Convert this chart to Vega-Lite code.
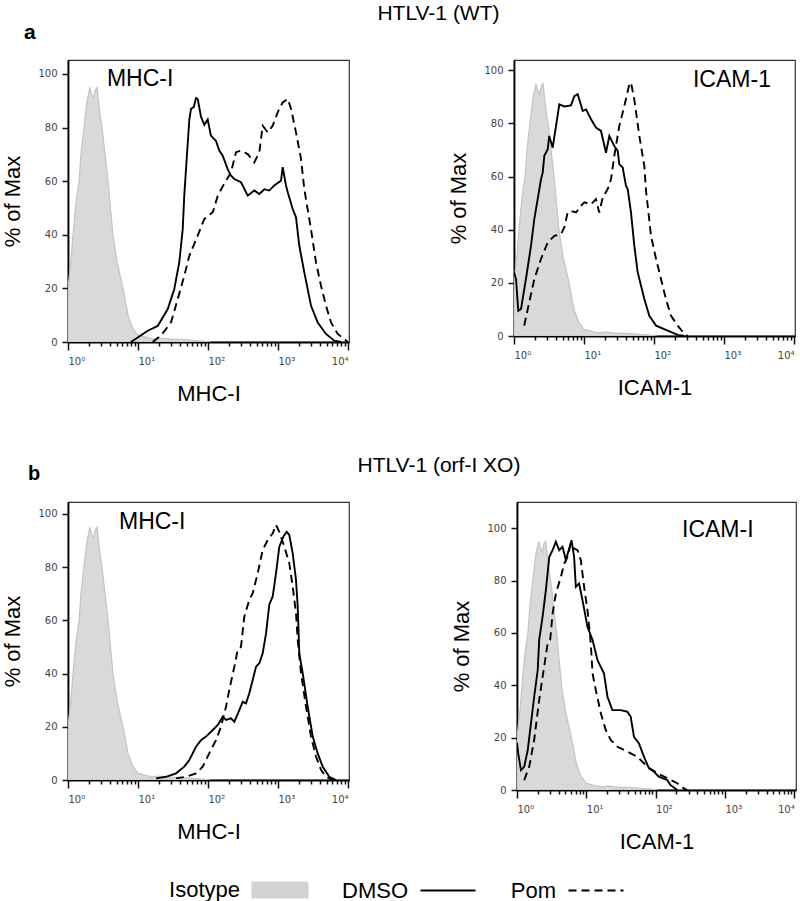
{
  "$schema": "https://vega.github.io/schema/vega-lite/v6.json",
  "padding": {"left": 1, "top": 3, "right": 5, "bottom": 5},
  "spacing": 50,
  "datasets": {
    "iso": [
      {"x": 1.0, "y": 20}, {"x": 1.1, "y": 30}, {"x": 1.18, "y": 40}, {"x": 1.3, "y": 52}, {"x": 1.44, "y": 60},
      {"x": 1.53, "y": 70}, {"x": 1.69, "y": 80}, {"x": 1.87, "y": 90}, {"x": 2.06, "y": 95}, {"x": 2.2, "y": 92},
      {"x": 2.31, "y": 91}, {"x": 2.45, "y": 94}, {"x": 2.6, "y": 95}, {"x": 2.86, "y": 85}, {"x": 3.06, "y": 80},
      {"x": 3.38, "y": 70}, {"x": 3.73, "y": 60}, {"x": 4.11, "y": 48}, {"x": 4.39, "y": 40}, {"x": 5.01, "y": 30},
      {"x": 6.11, "y": 20}, {"x": 7.2, "y": 10}, {"x": 8.48, "y": 5}, {"x": 10, "y": 2.5}, {"x": 13, "y": 1.8},
      {"x": 16, "y": 1.2}, {"x": 21, "y": 1.5}, {"x": 30, "y": 1}, {"x": 41, "y": 1}, {"x": 60, "y": 0.6},
      {"x": 79, "y": 0.4}, {"x": 110, "y": 0}
    ],
    "a1": [
      {"s": "DMSO", "x": 7.94, "y": 0}, {"s": "DMSO", "x": 13.8, "y": 4.2}, {"s": "DMSO", "x": 19.1, "y": 6}, {"s": "DMSO", "x": 26.6, "y": 12.3},
      {"s": "DMSO", "x": 33.0, "y": 19.8}, {"s": "DMSO", "x": 38.9, "y": 29.8}, {"s": "DMSO", "x": 43.5, "y": 42}, {"s": "DMSO", "x": 45.8, "y": 54.6},
      {"s": "DMSO", "x": 48.5, "y": 64.5}, {"s": "DMSO", "x": 54.1, "y": 83}, {"s": "DMSO", "x": 57.2, "y": 87}, {"s": "DMSO", "x": 62.5, "y": 87.6},
      {"s": "DMSO", "x": 67.4, "y": 91}, {"s": "DMSO", "x": 71.3, "y": 90.7}, {"s": "DMSO", "x": 79.4, "y": 84}, {"s": "DMSO", "x": 88.5, "y": 81},
      {"s": "DMSO", "x": 99, "y": 83}, {"s": "DMSO", "x": 110, "y": 77}, {"s": "DMSO", "x": 130, "y": 75}, {"s": "DMSO", "x": 145, "y": 71.4},
      {"s": "DMSO", "x": 162, "y": 69.5}, {"s": "DMSO", "x": 191, "y": 64.5}, {"s": "DMSO", "x": 213, "y": 62}, {"s": "DMSO", "x": 238, "y": 60.8},
      {"s": "DMSO", "x": 296, "y": 59.6}, {"s": "DMSO", "x": 369, "y": 54.6}, {"s": "DMSO", "x": 459, "y": 56.5}, {"s": "DMSO", "x": 541, "y": 55.2},
      {"s": "DMSO", "x": 637, "y": 57}, {"s": "DMSO", "x": 751, "y": 56.5}, {"s": "DMSO", "x": 885, "y": 58.4}, {"s": "DMSO", "x": 1104, "y": 60.2},
      {"s": "DMSO", "x": 1167, "y": 65.2}, {"s": "DMSO", "x": 1301, "y": 58.4}, {"s": "DMSO", "x": 1377, "y": 55.9}, {"s": "DMSO", "x": 1622, "y": 49.6},
      {"s": "DMSO", "x": 1807, "y": 46.5}, {"s": "DMSO", "x": 2015, "y": 35.9}, {"s": "DMSO", "x": 2375, "y": 26}, {"s": "DMSO", "x": 2961, "y": 13.5},
      {"s": "DMSO", "x": 3690, "y": 7.3}, {"s": "DMSO", "x": 4850, "y": 3}, {"s": "DMSO", "x": 6370, "y": 0.5}, {"s": "DMSO", "x": 7943, "y": 0},
      {"s": "Pom", "x": 16.2, "y": 0}, {"s": "Pom", "x": 21.3, "y": 2.4}, {"s": "Pom", "x": 29.6, "y": 7.3}, {"s": "Pom", "x": 36.9, "y": 16},
      {"s": "Pom", "x": 45.8, "y": 24.7}, {"s": "Pom", "x": 54.1, "y": 32.2}, {"s": "Pom", "x": 71.3, "y": 39.7}, {"s": "Pom", "x": 88.5, "y": 45.9},
      {"s": "Pom", "x": 117, "y": 48.4}, {"s": "Pom", "x": 138, "y": 54.6}, {"s": "Pom", "x": 162, "y": 58}, {"s": "Pom", "x": 213, "y": 63.3},
      {"s": "Pom", "x": 251, "y": 70.8}, {"s": "Pom", "x": 296, "y": 71.4}, {"s": "Pom", "x": 369, "y": 70.1}, {"s": "Pom", "x": 459, "y": 67},
      {"s": "Pom", "x": 541, "y": 70.8}, {"s": "Pom", "x": 604, "y": 80.7}, {"s": "Pom", "x": 713, "y": 78.2}, {"s": "Pom", "x": 840, "y": 80.7},
      {"s": "Pom", "x": 991, "y": 85.7}, {"s": "Pom", "x": 1167, "y": 89.4}, {"s": "Pom", "x": 1377, "y": 90.7}, {"s": "Pom", "x": 1535, "y": 87},
      {"s": "Pom", "x": 1807, "y": 78.2}, {"s": "Pom", "x": 2132, "y": 68.3}, {"s": "Pom", "x": 2375, "y": 57}, {"s": "Pom", "x": 2961, "y": 42},
      {"s": "Pom", "x": 3490, "y": 29.7}, {"s": "Pom", "x": 4111, "y": 21}, {"s": "Pom", "x": 4850, "y": 13.5}, {"s": "Pom", "x": 5715, "y": 7.3},
      {"s": "Pom", "x": 7129, "y": 3}, {"s": "Pom", "x": 8851, "y": 1.1}, {"s": "Pom", "x": 9900, "y": 0}
    ],
    "a2": [
      {"s": "DMSO", "x": 1.0, "y": 24}, {"s": "DMSO", "x": 1.07, "y": 21.4}, {"s": "DMSO", "x": 1.15, "y": 9.5}, {"s": "DMSO", "x": 1.26, "y": 10.2},
      {"s": "DMSO", "x": 1.48, "y": 21.4}, {"s": "DMSO", "x": 1.75, "y": 34}, {"s": "DMSO", "x": 1.95, "y": 44}, {"s": "DMSO", "x": 2.18, "y": 51.5},
      {"s": "DMSO", "x": 2.43, "y": 59}, {"s": "DMSO", "x": 2.57, "y": 61.5}, {"s": "DMSO", "x": 2.71, "y": 67.8}, {"s": "DMSO", "x": 3.03, "y": 70.3},
      {"s": "DMSO", "x": 3.19, "y": 75.3}, {"s": "DMSO", "x": 3.57, "y": 70.9}, {"s": "DMSO", "x": 3.98, "y": 79}, {"s": "DMSO", "x": 4.44, "y": 87.2},
      {"s": "DMSO", "x": 5.23, "y": 86.4}, {"s": "DMSO", "x": 6.52, "y": 86.8}, {"s": "DMSO", "x": 7.27, "y": 90.3}, {"s": "DMSO", "x": 8.13, "y": 91},
      {"s": "DMSO", "x": 9.58, "y": 84.7}, {"s": "DMSO", "x": 10.7, "y": 85.3}, {"s": "DMSO", "x": 12.6, "y": 81.6}, {"s": "DMSO", "x": 14.8, "y": 78.5},
      {"s": "DMSO", "x": 17.5, "y": 77.2}, {"s": "DMSO", "x": 20.6, "y": 69}, {"s": "DMSO", "x": 23, "y": 75.3}, {"s": "DMSO", "x": 27.1, "y": 71.5},
      {"s": "DMSO", "x": 30.3, "y": 69.7}, {"s": "DMSO", "x": 31.9, "y": 64.7}, {"s": "DMSO", "x": 35.7, "y": 63.4}, {"s": "DMSO", "x": 39.8, "y": 56.5},
      {"s": "DMSO", "x": 42.1, "y": 55.3}, {"s": "DMSO", "x": 46.9, "y": 46.5}, {"s": "DMSO", "x": 52.3, "y": 34}, {"s": "DMSO", "x": 58.5, "y": 24},
      {"s": "DMSO", "x": 72.7, "y": 13.9}, {"s": "DMSO", "x": 85.7, "y": 7.6}, {"s": "DMSO", "x": 107, "y": 3.9}, {"s": "DMSO", "x": 157, "y": 2},
      {"s": "DMSO", "x": 218, "y": 0.4}, {"s": "DMSO", "x": 271, "y": 0},
      {"s": "Pom", "x": 1.40, "y": 3.9}, {"s": "Pom", "x": 1.65, "y": 12.7}, {"s": "Pom", "x": 1.95, "y": 21.4}, {"s": "Pom", "x": 2.43, "y": 29},
      {"s": "Pom", "x": 3.03, "y": 35.2}, {"s": "Pom", "x": 3.77, "y": 37.7}, {"s": "Pom", "x": 4.69, "y": 38.3}, {"s": "Pom", "x": 5.23, "y": 40.9},
      {"s": "Pom", "x": 5.85, "y": 46.5}, {"s": "Pom", "x": 6.52, "y": 47.1}, {"s": "Pom", "x": 7.69, "y": 46.5}, {"s": "Pom", "x": 9.06, "y": 49},
      {"s": "Pom", "x": 10.1, "y": 50.3}, {"s": "Pom", "x": 12.6, "y": 49.6}, {"s": "Pom", "x": 14.8, "y": 51.5}, {"s": "Pom", "x": 16.5, "y": 46.5},
      {"s": "Pom", "x": 18.5, "y": 52.1}, {"s": "Pom", "x": 21.8, "y": 55.3}, {"s": "Pom", "x": 24.3, "y": 59}, {"s": "Pom", "x": 27.1, "y": 67.8},
      {"s": "Pom", "x": 31.9, "y": 79}, {"s": "Pom", "x": 37.7, "y": 86.6}, {"s": "Pom", "x": 44.4, "y": 94.7}, {"s": "Pom", "x": 46.9, "y": 95.4},
      {"s": "Pom", "x": 52.3, "y": 89.1}, {"s": "Pom", "x": 61.7, "y": 75.3}, {"s": "Pom", "x": 72.7, "y": 64}, {"s": "Pom", "x": 76.9, "y": 54.6},
      {"s": "Pom", "x": 81.3, "y": 49}, {"s": "Pom", "x": 90.6, "y": 37.7}, {"s": "Pom", "x": 107, "y": 29}, {"s": "Pom", "x": 126, "y": 21.4},
      {"s": "Pom", "x": 148, "y": 13.9}, {"s": "Pom", "x": 175, "y": 7.6}, {"s": "Pom", "x": 218, "y": 3.9}, {"s": "Pom", "x": 271, "y": 0.8},
      {"s": "Pom", "x": 303, "y": 0}
    ],
    "b1": [
      {"s": "DMSO", "x": 18.1, "y": 0.6}, {"s": "DMSO", "x": 25.1, "y": 1.2}, {"s": "DMSO", "x": 34.9, "y": 2.5}, {"s": "DMSO", "x": 45.8, "y": 5},
      {"s": "DMSO", "x": 54.1, "y": 7.5}, {"s": "DMSO", "x": 67.4, "y": 12.5}, {"s": "DMSO", "x": 79.4, "y": 15}, {"s": "DMSO", "x": 93.6, "y": 16.3},
      {"s": "DMSO", "x": 117, "y": 18.8}, {"s": "DMSO", "x": 138, "y": 20.7}, {"s": "DMSO", "x": 162, "y": 23.8}, {"s": "DMSO", "x": 181, "y": 22.6},
      {"s": "DMSO", "x": 213, "y": 23.2}, {"s": "DMSO", "x": 238, "y": 21.9}, {"s": "DMSO", "x": 280, "y": 26.3}, {"s": "DMSO", "x": 313, "y": 29.4},
      {"s": "DMSO", "x": 349, "y": 28.8}, {"s": "DMSO", "x": 389, "y": 32.6}, {"s": "DMSO", "x": 435, "y": 37.6}, {"s": "DMSO", "x": 485, "y": 42.6},
      {"s": "DMSO", "x": 541, "y": 43.9}, {"s": "DMSO", "x": 604, "y": 47.6}, {"s": "DMSO", "x": 674, "y": 55}, {"s": "DMSO", "x": 751, "y": 66},
      {"s": "DMSO", "x": 840, "y": 69}, {"s": "DMSO", "x": 936, "y": 77.7}, {"s": "DMSO", "x": 1044, "y": 87.7}, {"s": "DMSO", "x": 1191, "y": 91.5},
      {"s": "DMSO", "x": 1330, "y": 93.3}, {"s": "DMSO", "x": 1449, "y": 92.1}, {"s": "DMSO", "x": 1622, "y": 85.2}, {"s": "DMSO", "x": 1807, "y": 75.2},
      {"s": "DMSO", "x": 1911, "y": 65.2}, {"s": "DMSO", "x": 2015, "y": 47.6}, {"s": "DMSO", "x": 2254, "y": 40.1}, {"s": "DMSO", "x": 2655, "y": 27.6},
      {"s": "DMSO", "x": 3133, "y": 16.3}, {"s": "DMSO", "x": 3690, "y": 10}, {"s": "DMSO", "x": 4351, "y": 5}, {"s": "DMSO", "x": 5405, "y": 1.2},
      {"s": "DMSO", "x": 6745, "y": 0},
      {"s": "Pom", "x": 34.9, "y": 0.6}, {"s": "Pom", "x": 48.5, "y": 1.2}, {"s": "Pom", "x": 67.4, "y": 2.5}, {"s": "Pom", "x": 84, "y": 5},
      {"s": "Pom", "x": 104, "y": 10}, {"s": "Pom", "x": 130, "y": 15}, {"s": "Pom", "x": 153, "y": 20}, {"s": "Pom", "x": 181, "y": 27.6},
      {"s": "Pom", "x": 201, "y": 33.8}, {"s": "Pom", "x": 238, "y": 42.6}, {"s": "Pom", "x": 265, "y": 48.9}, {"s": "Pom", "x": 296, "y": 50.1},
      {"s": "Pom", "x": 330, "y": 61.4}, {"s": "Pom", "x": 389, "y": 67.7}, {"s": "Pom", "x": 435, "y": 70.2}, {"s": "Pom", "x": 513, "y": 77.7},
      {"s": "Pom", "x": 604, "y": 86.5}, {"s": "Pom", "x": 713, "y": 90.2}, {"s": "Pom", "x": 840, "y": 92.7}, {"s": "Pom", "x": 936, "y": 95.9},
      {"s": "Pom", "x": 1044, "y": 93.3}, {"s": "Pom", "x": 1230, "y": 87.7}, {"s": "Pom", "x": 1449, "y": 81.5}, {"s": "Pom", "x": 1622, "y": 72.7},
      {"s": "Pom", "x": 1807, "y": 62.7}, {"s": "Pom", "x": 1911, "y": 52.6}, {"s": "Pom", "x": 2132, "y": 40.1}, {"s": "Pom", "x": 2512, "y": 27.6},
      {"s": "Pom", "x": 2961, "y": 16.3}, {"s": "Pom", "x": 3490, "y": 8.8}, {"s": "Pom", "x": 4111, "y": 3.8}, {"s": "Pom", "x": 4850, "y": 1.2},
      {"s": "Pom", "x": 6040, "y": 0}
    ],
    "b2": [
      {"s": "DMSO", "x": 1.0, "y": 18}, {"s": "DMSO", "x": 1.04, "y": 14}, {"s": "DMSO", "x": 1.14, "y": 7.6}, {"s": "DMSO", "x": 1.27, "y": 8.9},
      {"s": "DMSO", "x": 1.43, "y": 15.3}, {"s": "DMSO", "x": 1.59, "y": 25.5}, {"s": "DMSO", "x": 1.77, "y": 35.6}, {"s": "DMSO", "x": 1.99, "y": 45.8},
      {"s": "DMSO", "x": 2.09, "y": 57.3}, {"s": "DMSO", "x": 2.34, "y": 66.2}, {"s": "DMSO", "x": 2.61, "y": 76.3}, {"s": "DMSO", "x": 2.92, "y": 89},
      {"s": "DMSO", "x": 3.26, "y": 91.6}, {"s": "DMSO", "x": 3.64, "y": 94.8}, {"s": "DMSO", "x": 4.06, "y": 91.6}, {"s": "DMSO", "x": 4.54, "y": 92.9},
      {"s": "DMSO", "x": 5.07, "y": 87.8}, {"s": "DMSO", "x": 5.66, "y": 92.2}, {"s": "DMSO", "x": 6.12, "y": 95.4}, {"s": "DMSO", "x": 6.67, "y": 89},
      {"s": "DMSO", "x": 7.06, "y": 77.6}, {"s": "DMSO", "x": 7.87, "y": 78.9}, {"s": "DMSO", "x": 8.81, "y": 72.5}, {"s": "DMSO", "x": 10.4, "y": 62.3},
      {"s": "DMSO", "x": 12.3, "y": 57.3}, {"s": "DMSO", "x": 14.5, "y": 49.6}, {"s": "DMSO", "x": 18, "y": 44.5}, {"s": "DMSO", "x": 20.2, "y": 35.6},
      {"s": "DMSO", "x": 23.8, "y": 30.5}, {"s": "DMSO", "x": 31.4, "y": 30.5}, {"s": "DMSO", "x": 39.1, "y": 29.9}, {"s": "DMSO", "x": 43.7, "y": 28},
      {"s": "DMSO", "x": 48.7, "y": 20.3}, {"s": "DMSO", "x": 57.5, "y": 17.8}, {"s": "DMSO", "x": 67.9, "y": 12.7}, {"s": "DMSO", "x": 80.1, "y": 8.3},
      {"s": "DMSO", "x": 94.6, "y": 7}, {"s": "DMSO", "x": 111, "y": 5.1}, {"s": "DMSO", "x": 147, "y": 3.8}, {"s": "DMSO", "x": 164, "y": 1.9},
      {"s": "DMSO", "x": 205, "y": 0},
      {"s": "Pom", "x": 1.27, "y": 3.8}, {"s": "Pom", "x": 1.50, "y": 8.9}, {"s": "Pom", "x": 1.77, "y": 19.1}, {"s": "Pom", "x": 2.09, "y": 34.4},
      {"s": "Pom", "x": 2.34, "y": 43.2}, {"s": "Pom", "x": 2.77, "y": 56}, {"s": "Pom", "x": 3.01, "y": 57.3}, {"s": "Pom", "x": 3.26, "y": 67.4},
      {"s": "Pom", "x": 3.64, "y": 75.1}, {"s": "Pom", "x": 4.30, "y": 81.4}, {"s": "Pom", "x": 4.80, "y": 86.5}, {"s": "Pom", "x": 5.36, "y": 89},
      {"s": "Pom", "x": 5.98, "y": 94.2}, {"s": "Pom", "x": 6.67, "y": 92.2}, {"s": "Pom", "x": 7.47, "y": 91.6}, {"s": "Pom", "x": 8.33, "y": 87.8},
      {"s": "Pom", "x": 9.30, "y": 77.6}, {"s": "Pom", "x": 10.4, "y": 68.7}, {"s": "Pom", "x": 11.6, "y": 56}, {"s": "Pom", "x": 12.3, "y": 44.5},
      {"s": "Pom", "x": 13.7, "y": 38.2}, {"s": "Pom", "x": 16.2, "y": 29.3}, {"s": "Pom", "x": 19.1, "y": 22.9}, {"s": "Pom", "x": 22.5, "y": 19.1},
      {"s": "Pom", "x": 28.1, "y": 16.5}, {"s": "Pom", "x": 35, "y": 15.3}, {"s": "Pom", "x": 43.7, "y": 14}, {"s": "Pom", "x": 54.5, "y": 12.7},
      {"s": "Pom", "x": 76, "y": 8.9}, {"s": "Pom", "x": 106, "y": 6.4}, {"s": "Pom", "x": 147, "y": 4.5}, {"s": "Pom", "x": 205, "y": 2.6},
      {"s": "Pom", "x": 255, "y": 0.6}, {"s": "Pom", "x": 286, "y": 0}
    ]
  },
  "vconcat": [
    {
      "title": {"text": "HTLV-1 (WT)", "anchor": "middle", "frame": "bounds", "dx": 40, "offset": -3, "font": "Liberation Sans", "fontSize": 21, "fontWeight": "normal", "color": "#000"},
      "bounds": "flush",
      "spacing": 165,
      "hconcat": [
        {
          "width": 281, "height": 282,
          "title": {"text": "a", "anchor": "start", "frame": "group", "dx": -44, "offset": 0, "baseline": "alphabetic", "font": "Liberation Sans", "fontSize": 21, "fontWeight": "bold", "color": "#000"},
          "layer": [
            {"data": {"name": "iso"}, "mark": {"type": "area", "fill": "#d9d9d9", "stroke": "#c4c4c4", "strokeWidth": 1.2, "clip": true},
             "encoding": {
               "x": {"field": "x", "type": "quantitative", "scale": {"type": "log", "domain": [1, 10330], "nice": false},
                     "axis": {"title": "MHC-I", "values": [1,2,3,4,5,6,7,8,9,10,20,30,40,50,60,70,80,90,100,200,300,400,500,600,700,800,900,1000,2000,3000,4000,5000,6000,7000,8000,9000,10000],
                              "labelExpr": "abs(log(datum.value)/LN10 - round(log(datum.value)/LN10)) < 0.01 ? '10' + ['⁰','¹','²','³','⁴'][round(log(datum.value)/LN10)] : ''",
                              "labelAlign": {"condition": {"test": "datum.value > 9000", "value": "right"}, "value": "left"},
                              "tickSize": {"condition": {"test": "abs(log(datum.value)/LN10 - round(log(datum.value)/LN10)) < 0.01", "value": 8}, "value": 4}}},
               "y": {"field": "y", "type": "quantitative", "stack": null, "scale": {"domain": [0, 105.2], "nice": false},
                     "axis": {"title": "% of Max", "values": [0,5,10,15,20,25,30,35,40,45,50,55,60,65,70,75,80,85,90,95,100],
                              "labelExpr": "datum.value % 20 === 0 ? datum.label : ''",
                              "tickSize": {"condition": {"test": "datum.value % 20 === 0", "value": 6}, "value": 3}}}
             }},
            {"data": {"name": "a1"}, "transform": [{"filter": "datum.s === 'DMSO'"}], "mark": {"type": "line", "color": "#000", "strokeWidth": 1.9, "clip": true},
             "encoding": {"x": {"field": "x", "type": "quantitative"}, "y": {"field": "y", "type": "quantitative"}}},
            {"data": {"name": "a1"}, "transform": [{"filter": "datum.s === 'Pom'"}], "mark": {"type": "line", "color": "#000", "strokeWidth": 1.9, "strokeDash": [8, 5], "clip": true},
             "encoding": {"x": {"field": "x", "type": "quantitative"}, "y": {"field": "y", "type": "quantitative"}}},
            {"data": {"values": [{"label": "MHC-I"}]}, "mark": {"type": "text", "align": "left", "baseline": "alphabetic", "font": "Liberation Sans", "fontSize": 23, "color": "#000"},
             "encoding": {"x": {"datum": 3.6}, "y": {"datum": 95.5}, "text": {"field": "label"}}}
          ]
        },
        {
          "width": 281, "height": 276,
          "layer": [
            {"data": {"name": "iso"}, "mark": {"type": "area", "fill": "#d9d9d9", "stroke": "#c4c4c4", "strokeWidth": 1.2, "clip": true},
             "encoding": {
               "x": {"field": "x", "type": "quantitative", "scale": {"type": "log", "domain": [1, 10330], "nice": false},
                     "axis": {"title": "ICAM-1", "values": [1,2,3,4,5,6,7,8,9,10,20,30,40,50,60,70,80,90,100,200,300,400,500,600,700,800,900,1000,2000,3000,4000,5000,6000,7000,8000,9000,10000],
                              "labelExpr": "abs(log(datum.value)/LN10 - round(log(datum.value)/LN10)) < 0.01 ? '10' + ['⁰','¹','²','³','⁴'][round(log(datum.value)/LN10)] : ''",
                              "labelAlign": {"condition": {"test": "datum.value > 9000", "value": "right"}, "value": "left"},
                              "tickSize": {"condition": {"test": "abs(log(datum.value)/LN10 - round(log(datum.value)/LN10)) < 0.01", "value": 8}, "value": 4}}},
               "y": {"field": "y", "type": "quantitative", "stack": null, "scale": {"domain": [0, 103.9], "nice": false},
                     "axis": {"title": "% of Max", "values": [0,5,10,15,20,25,30,35,40,45,50,55,60,65,70,75,80,85,90,95,100],
                              "labelExpr": "datum.value % 20 === 0 ? datum.label : ''",
                              "tickSize": {"condition": {"test": "datum.value % 20 === 0", "value": 6}, "value": 3}}}
             }},
            {"data": {"name": "a2"}, "transform": [{"filter": "datum.s === 'DMSO'"}], "mark": {"type": "line", "color": "#000", "strokeWidth": 1.9, "clip": true},
             "encoding": {"x": {"field": "x", "type": "quantitative"}, "y": {"field": "y", "type": "quantitative"}}},
            {"data": {"name": "a2"}, "transform": [{"filter": "datum.s === 'Pom'"}], "mark": {"type": "line", "color": "#000", "strokeWidth": 1.9, "strokeDash": [8, 5], "clip": true},
             "encoding": {"x": {"field": "x", "type": "quantitative"}, "y": {"field": "y", "type": "quantitative"}}},
            {"data": {"values": [{"label": "ICAM-1"}]}, "mark": {"type": "text", "align": "right", "baseline": "alphabetic", "font": "Liberation Sans", "fontSize": 23, "color": "#000"},
             "encoding": {"x": {"datum": 4680}, "y": {"datum": 93.7}, "text": {"field": "label"}}}
          ]
        }
      ]
    },
    {
      "title": {"text": "HTLV-1 (orf-I XO)", "anchor": "middle", "frame": "bounds", "dx": 40, "offset": -13, "font": "Liberation Sans", "fontSize": 21, "fontWeight": "normal", "color": "#000"},
      "bounds": "flush",
      "spacing": 168,
      "hconcat": [
        {
          "width": 281, "height": 278,
          "title": {"text": "b", "anchor": "start", "frame": "group", "dx": -40, "offset": 2, "baseline": "alphabetic", "font": "Liberation Sans", "fontSize": 20, "fontWeight": "bold", "color": "#000"},
          "layer": [
            {"data": {"name": "iso"}, "mark": {"type": "area", "fill": "#d9d9d9", "stroke": "#c4c4c4", "strokeWidth": 1.2, "clip": true},
             "encoding": {
               "x": {"field": "x", "type": "quantitative", "scale": {"type": "log", "domain": [1, 10330], "nice": false},
                     "axis": {"title": "MHC-I", "values": [1,2,3,4,5,6,7,8,9,10,20,30,40,50,60,70,80,90,100,200,300,400,500,600,700,800,900,1000,2000,3000,4000,5000,6000,7000,8000,9000,10000],
                              "labelExpr": "abs(log(datum.value)/LN10 - round(log(datum.value)/LN10)) < 0.01 ? '10' + ['⁰','¹','²','³','⁴'][round(log(datum.value)/LN10)] : ''",
                              "labelAlign": {"condition": {"test": "datum.value > 9000", "value": "right"}, "value": "left"},
                              "tickSize": {"condition": {"test": "abs(log(datum.value)/LN10 - round(log(datum.value)/LN10)) < 0.01", "value": 8}, "value": 4}}},
               "y": {"field": "y", "type": "quantitative", "stack": null, "scale": {"domain": [0, 104.5], "nice": false},
                     "axis": {"title": "% of Max", "values": [0,5,10,15,20,25,30,35,40,45,50,55,60,65,70,75,80,85,90,95,100],
                              "labelExpr": "datum.value % 20 === 0 ? datum.label : ''",
                              "tickSize": {"condition": {"test": "datum.value % 20 === 0", "value": 6}, "value": 3}}}
             }},
            {"data": {"name": "b1"}, "transform": [{"filter": "datum.s === 'DMSO'"}], "mark": {"type": "line", "color": "#000", "strokeWidth": 1.9, "clip": true},
             "encoding": {"x": {"field": "x", "type": "quantitative"}, "y": {"field": "y", "type": "quantitative"}}},
            {"data": {"name": "b1"}, "transform": [{"filter": "datum.s === 'Pom'"}], "mark": {"type": "line", "color": "#000", "strokeWidth": 1.9, "strokeDash": [8, 5], "clip": true},
             "encoding": {"x": {"field": "x", "type": "quantitative"}, "y": {"field": "y", "type": "quantitative"}}},
            {"data": {"values": [{"label": "MHC-I"}]}, "mark": {"type": "text", "align": "left", "baseline": "alphabetic", "font": "Liberation Sans", "fontSize": 23, "color": "#000"},
             "encoding": {"x": {"datum": 5.35}, "y": {"datum": 94.4}, "text": {"field": "label"}}}
          ]
        },
        {
          "width": 279, "height": 288,
          "layer": [
            {"data": {"name": "iso"}, "mark": {"type": "area", "fill": "#d9d9d9", "stroke": "#c4c4c4", "strokeWidth": 1.2, "clip": true},
             "encoding": {
               "x": {"field": "x", "type": "quantitative", "scale": {"type": "log", "domain": [1, 10600], "nice": false},
                     "axis": {"title": "ICAM-1", "values": [1,2,3,4,5,6,7,8,9,10,20,30,40,50,60,70,80,90,100,200,300,400,500,600,700,800,900,1000,2000,3000,4000,5000,6000,7000,8000,9000,10000],
                              "labelExpr": "abs(log(datum.value)/LN10 - round(log(datum.value)/LN10)) < 0.01 ? '10' + ['⁰','¹','²','³','⁴'][round(log(datum.value)/LN10)] : ''",
                              "labelAlign": {"condition": {"test": "datum.value > 9000", "value": "right"}, "value": "left"},
                              "tickSize": {"condition": {"test": "abs(log(datum.value)/LN10 - round(log(datum.value)/LN10)) < 0.01", "value": 8}, "value": 4}}},
               "y": {"field": "y", "type": "quantitative", "stack": null, "scale": {"domain": [0, 110], "nice": false},
                     "axis": {"title": "% of Max", "values": [0,5,10,15,20,25,30,35,40,45,50,55,60,65,70,75,80,85,90,95,100],
                              "labelExpr": "datum.value % 20 === 0 ? datum.label : ''",
                              "tickSize": {"condition": {"test": "datum.value % 20 === 0", "value": 6}, "value": 3}}}
             }},
            {"data": {"name": "b2"}, "mark": {"type": "line", "color": "#000", "strokeWidth": 1.9, "clip": true},
             "encoding": {"x": {"field": "x", "type": "quantitative"}, "y": {"field": "y", "type": "quantitative"},
               "strokeDash": {"field": "s", "type": "nominal",
                 "scale": {"domain": ["Isotype", "DMSO", "Pom"], "range": [[1, 0], [1, 0], [8, 5]]},
                 "legend": {"orient": "none", "legendX": 183, "legendY": 801, "direction": "horizontal", "title": null, "padding": 0,
                   "symbolType": "stroke", "symbolSize": 3025, "symbolStrokeWidth": 2.2, "symbolStrokeColor": "#000",
                   "labelFont": "Liberation Sans", "labelFontSize": 22, "labelColor": "#000", "labelAlign": "right", "labelOffset": -69,
                   "columnPadding": 30, "labelLimit": 200,
                   "encode": {"symbols": {"update": {
                     "shape": {"signal": "datum.value === 'Isotype' ? 'M-1,-0.27H1V0.27H-1Z' : 'stroke'"},
                     "fill": {"signal": "datum.value === 'Isotype' ? '#d3d3d3' : 'transparent'"},
                     "stroke": {"signal": "datum.value === 'Isotype' ? '#d3d3d3' : '#000'"},
                     "strokeDash": {"signal": "datum.value === 'Pom' ? [10, 8] : [1, 0]"}
                   }}}
                 }}}},
            {"data": {"values": [{"label": "ICAM-I"}]}, "mark": {"type": "text", "align": "right", "baseline": "alphabetic", "font": "Liberation Sans", "fontSize": 23, "color": "#000"},
             "encoding": {"x": {"datum": 2590}, "y": {"datum": 96.7}, "text": {"field": "label"}}}
          ]
        }
      ]
    }
  ],
  "config": {
    "font": "Liberation Sans",
    "view": {"stroke": "#333", "strokeWidth": 1.2},
    "axis": {"grid": false, "domainColor": "#000", "domainWidth": 1.8, "tickColor": "#111", "tickWidth": 1.5,
             "labelFont": "DejaVu Sans", "labelFontSize": 10, "labelColor": "#444", "labelOverlap": false, "labelFlush": false,
             "titleFont": "Liberation Sans", "titleFontSize": 22, "titleFontWeight": "normal", "titleColor": "#000"},
    "axisX": {"labelPadding": 6, "titlePadding": 17},
    "axisY": {"labelPadding": 5, "titlePadding": 13}
  }
}
